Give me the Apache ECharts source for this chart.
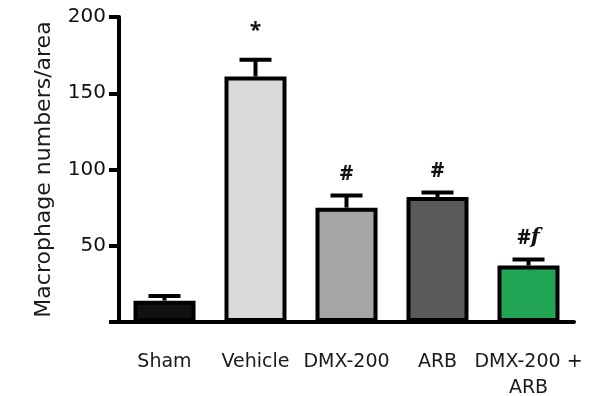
<!DOCTYPE html>
<html>
<head>
<meta charset="utf-8">
<script src="https://cdn.jsdelivr.net/npm/echarts@6/dist/echarts.min.js"></script>
<style>html,body{margin:0;padding:0;background:#fff}#c{width:610px;height:396px}</style>
</head>
<body>
<div id="c"></div>
<script>
var categories = ['Sham', 'Vehicle', 'DMX-200', 'ARB', 'DMX-200 +\nARB'];
var values = [14, 161, 75, 82, 37];
var errors = [3, 11, 8, 3, 4];
var barColors = ['#111111', '#d9d9d9', '#a5a5a5', '#5a5a5a', '#21a555'];
var annotations = ['', '*', '#', '#', '#f'];
var yTicks = [0, 50, 100, 150, 200];

var FONT = 'DejaVu Sans';
var chart = echarts.init(document.getElementById('c'));
chart.setOption({
  animation: false,
  grid: { left: 119, right: 36, top: 17, bottom: 74, containLabel: false, outerBoundsMode: 'none' },
  xAxis: {
    type: 'category',
    data: categories,
    axisLine: { lineStyle: { color: '#000', width: 4 } },
    axisTick: { alignWithLabel: true, length: 13, lineStyle: { color: '#000', width: 4 } },
    axisLabel: { color: '#1a1a1a', fontFamily: FONT, fontSize: 19, margin: 27, lineHeight: 26, interval: 0 }
  },
  yAxis: {
    type: 'value',
    min: yTicks[0], max: yTicks[yTicks.length - 1], interval: 50,
    name: 'Macrophage numbers/area',
    nameLocation: 'middle',
    nameGap: 64,
    nameTextStyle: { color: '#1a1a1a', fontFamily: FONT, fontSize: 22 },
    splitLine: { show: false },
    axisLine: { show: true, lineStyle: { color: '#000', width: 4 } },
    axisTick: { show: true, length: 10, lineStyle: { color: '#000', width: 4 } },
    axisLabel: {
      color: '#111', fontFamily: FONT, fontSize: 20, margin: 13,
      formatter: function (v) { return v === 0 ? '' : String(v); }
    }
  },
  series: [
    {
      type: 'bar',
      data: values.map(function (v, i) {
        return { value: v, itemStyle: { color: barColors[i] } };
      }),
      barWidth: 62,
      itemStyle: { borderColor: '#000', borderWidth: 4 },
      z: 2
    },
    {
      type: 'custom',
      z: 3,
      data: values.map(function (v, i) { return [i, v, v + errors[i]]; }),
      renderItem: function (params, api) {
        var i = api.value(0);
        var base = api.coord([i, api.value(1)]);
        var top = api.coord([i, api.value(2)]);
        var x = base[0];
        var half = 16;
        var ann = annotations[params.dataIndex];
        var children = [
          { type: 'rect', shape: { x: x - 2, y: top[1], width: 4, height: base[1] - top[1] }, style: { fill: '#000' } },
          { type: 'rect', shape: { x: x - half, y: top[1] - 2, width: half * 2, height: 4 }, style: { fill: '#000' } }
        ];
        if (ann) {
          var rich = ann.indexOf('f') >= 0;
          children.push({
            type: 'text',
            x: x, y: top[1] - (ann === '*' ? 18 : 11),
            style: {
              text: rich ? '{a|#}{b|f}' : ann,
              rich: rich ? {
                a: { fontFamily: 'Open Sans', fontWeight: 'bold', fontSize: 21, fill: '#111' },
                b: { fontFamily: 'DejaVu Serif', fontStyle: 'italic', fontWeight: 'bold', fontSize: 21, fill: '#111' }
              } : undefined,
              fontFamily: 'Open Sans', fontWeight: 'bold', fontSize: 21, fill: '#111',
              align: 'center', verticalAlign: 'bottom'
            }
          });
        }
        return { type: 'group', children: children };
      }
    }
  ]
});
</script>
</body>
</html>
